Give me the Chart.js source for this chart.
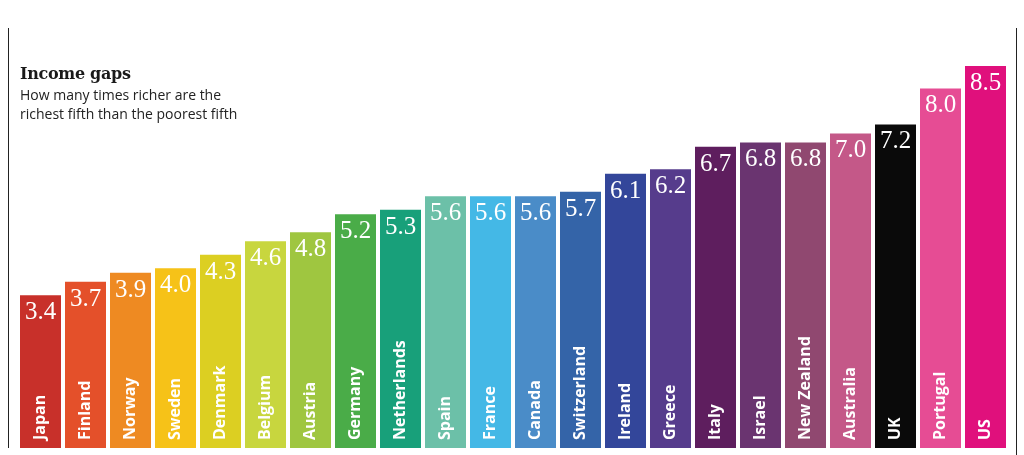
<!DOCTYPE html>
<html lang="en">
<head>
    <meta charset="UTF-8">
    <title>Income gaps</title>
    <script src="https://cdn.jsdelivr.net/npm/chart.js"></script>
    <style>
        body { margin: 0; background: #fff; }
        #wrap { position: relative; width: 1024px; height: 455px; }
        #title { position: absolute; left: 20px; top: 64px; font: bold 16px "DejaVu Serif", serif; color: #1a1a1a; letter-spacing: -0.3px; }
        #sub { position: absolute; left: 20px; top: 85px; font: 14px "Open Sans", sans-serif; color: #222; line-height: 19px; }
    </style>
    <script>
        // Income ratio, richest fifth vs poorest fifth
        const countries = ['Japan', 'Finland', 'Norway', 'Sweden', 'Denmark', 'Belgium', 'Austria', 'Germany',
            'Netherlands', 'Spain', 'France', 'Canada', 'Switzerland', 'Ireland', 'Greece', 'Italy',
            'Israel', 'New Zealand', 'Australia', 'UK', 'Portugal', 'US'];
        const ratios = [3.4, 3.7, 3.9, 4.0, 4.3, 4.6, 4.8, 5.2, 5.3, 5.6, 5.6, 5.6, 5.7, 6.1, 6.2, 6.7,
            6.8, 6.8, 7.0, 7.2, 8.0, 8.5];
        const barColours = ['#c8302a', '#e4502a', '#ee8a22', '#f6c218', '#dccf22', '#c8d63e', '#9fc640', '#4aac48',
            '#18a07a', '#6cc0a8', '#44b8e6', '#4a8cc8', '#3464a8', '#33469a', '#563c8c', '#5e1e5e',
            '#6a3470', '#904870', '#c45888', '#0a0a0a', '#e64c94', '#e0107c'];

        // draws value numbers, country names and the two thin frame lines
        const labelPlugin = {
            id: 'labels',
            afterDatasetsDraw(chart) {
                const ctx = chart.ctx;
                const meta = chart.getDatasetMeta(0);
                const base = chart.scales.y.getPixelForValue(0);
                ctx.save();
                ctx.fillStyle = '#fff';
                meta.data.forEach((bar, i) => {
                    ctx.font = '25px "Liberation Serif", serif';
                    ctx.textAlign = 'center';
                    ctx.textBaseline = 'alphabetic';
                    ctx.fillText(ratios[i].toFixed(1), bar.x, bar.y + 24);

                    ctx.save();
                    ctx.translate(bar.x, base - 8);
                    ctx.rotate(-Math.PI / 2);
                    ctx.font = 'bold 16px "Open Sans", sans-serif';
                    ctx.textAlign = 'left';
                    ctx.textBaseline = 'middle';
                    ctx.fillText(countries[i], 0, 0);
                    ctx.restore();
                });
                ctx.strokeStyle = '#222';
                ctx.lineWidth = 1;
                ctx.beginPath();
                ctx.moveTo(8.5, 28);
                ctx.lineTo(8.5, 448);
                ctx.moveTo(1016.5, 28);
                ctx.lineTo(1016.5, 455);
                ctx.stroke();
                ctx.restore();
            }
        };

        window.onload = function () {
            const ctx = document.getElementById('incomeChart').getContext('2d');
            new Chart(ctx, {
                type: 'bar',
                data: {
                    labels: countries,
                    datasets: [{
                        data: ratios,
                        backgroundColor: barColours,
                        borderWidth: 0,
                        categoryPercentage: 1,
                        barPercentage: 0.911
                    }]
                },
                options: {
                    responsive: false,
                    animation: false,
                    devicePixelRatio: 1,
                    layout: { padding: { left: 18, right: 16, top: 43.5, bottom: 7 } },
                    plugins: { legend: { display: false }, tooltip: { enabled: false } },
                    scales: {
                        x: { display: false },
                        y: { display: false, min: 0, max: 9 }
                    }
                },
                plugins: [labelPlugin]
            });
        };
    </script>
</head>
<body>
    <div id="wrap">
        <canvas id="incomeChart" width="1024" height="455"></canvas>
        <div id="title">Income gaps</div>
        <div id="sub">How many times richer are the<br>richest fifth than the poorest fifth</div>
    </div>
</body>
</html>
